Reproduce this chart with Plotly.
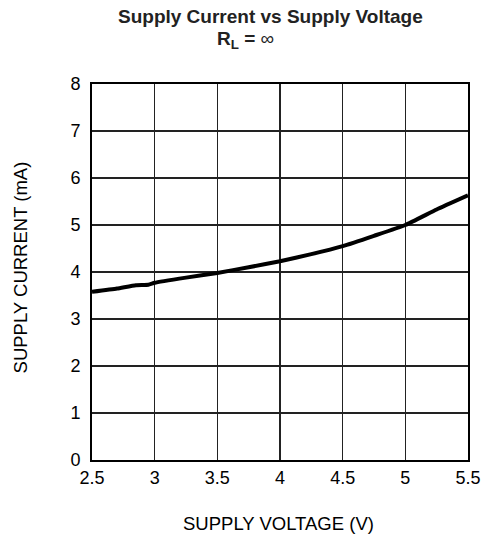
import plotly.graph_objects as go

voltage = [2.5, 2.7, 2.85, 2.95, 3.0, 3.25, 3.5, 3.75, 4.0, 4.25, 4.5, 4.75, 5.0, 5.25, 5.5]
current = [3.58, 3.65, 3.72, 3.73, 3.77, 3.88, 3.98, 4.10, 4.23, 4.38, 4.55, 4.77, 5.0, 5.33, 5.63]
x_ticks = [2.5, 3, 3.5, 4, 4.5, 5, 5.5]
x_labels = ["2.5", "3", "3.5", "4", "4.5", "5", "5.5"]
y_ticks = [0, 1, 2, 3, 4, 5, 6, 7, 8]

font = "Liberation Sans, Arial, sans-serif"

fig = go.Figure()
fig.add_trace(go.Scatter(x=voltage, y=current, mode="lines",
                         line=dict(color="black", width=4, shape="spline", smoothing=0.4),
                         showlegend=False, hoverinfo="skip"))

annotations = [
    dict(text="<b>Supply Current vs Supply Voltage</b>", x=0.476, y=1.1795,
         font=dict(size=19, color="#222")),
    dict(text="<b>R<sub>L</sub> = </b>∞", x=0.407, y=1.1157,
         font=dict(size=19, color="#222")),
    dict(text="SUPPLY VOLTAGE (V)", x=0.495, y=-0.169, font=dict(size=18.5)),
    dict(text="SUPPLY CURRENT (mA)", x=-0.190, y=0.511, textangle=-90, font=dict(size=18.5)),
]
for a in annotations:
    a.update(xref="paper", yref="paper", xanchor="center", yanchor="middle", showarrow=False)

fig.update_layout(
    width=493, height=540,
    margin=dict(l=92, r=25, t=84, b=80),
    paper_bgcolor="white", plot_bgcolor="white",
    font=dict(family=font, color="black", size=18),
    annotations=annotations,
    hovermode=False,
    xaxis=dict(range=[2.5, 5.5], tickvals=x_ticks, ticktext=x_labels,
               showgrid=True, gridcolor="#222", gridwidth=1.5,
               showline=True, linecolor="black", linewidth=2, mirror=True,
               ticks="", zeroline=False, ticklabelstandoff=0,
               tickfont=dict(size=18)),
    yaxis=dict(range=[0, 8], tickvals=y_ticks,
               showgrid=True, gridcolor="#222", gridwidth=1.5,
               showline=True, linecolor="black", linewidth=2, mirror=True,
               ticks="", zeroline=False, ticklabelstandoff=6,
               tickfont=dict(size=18)),
)

fig.write_html("out.html",
               config={"displayModeBar": False, "staticPlot": True},
               post_script="document.body.style.margin='0';document.body.style.overflow='hidden';")
